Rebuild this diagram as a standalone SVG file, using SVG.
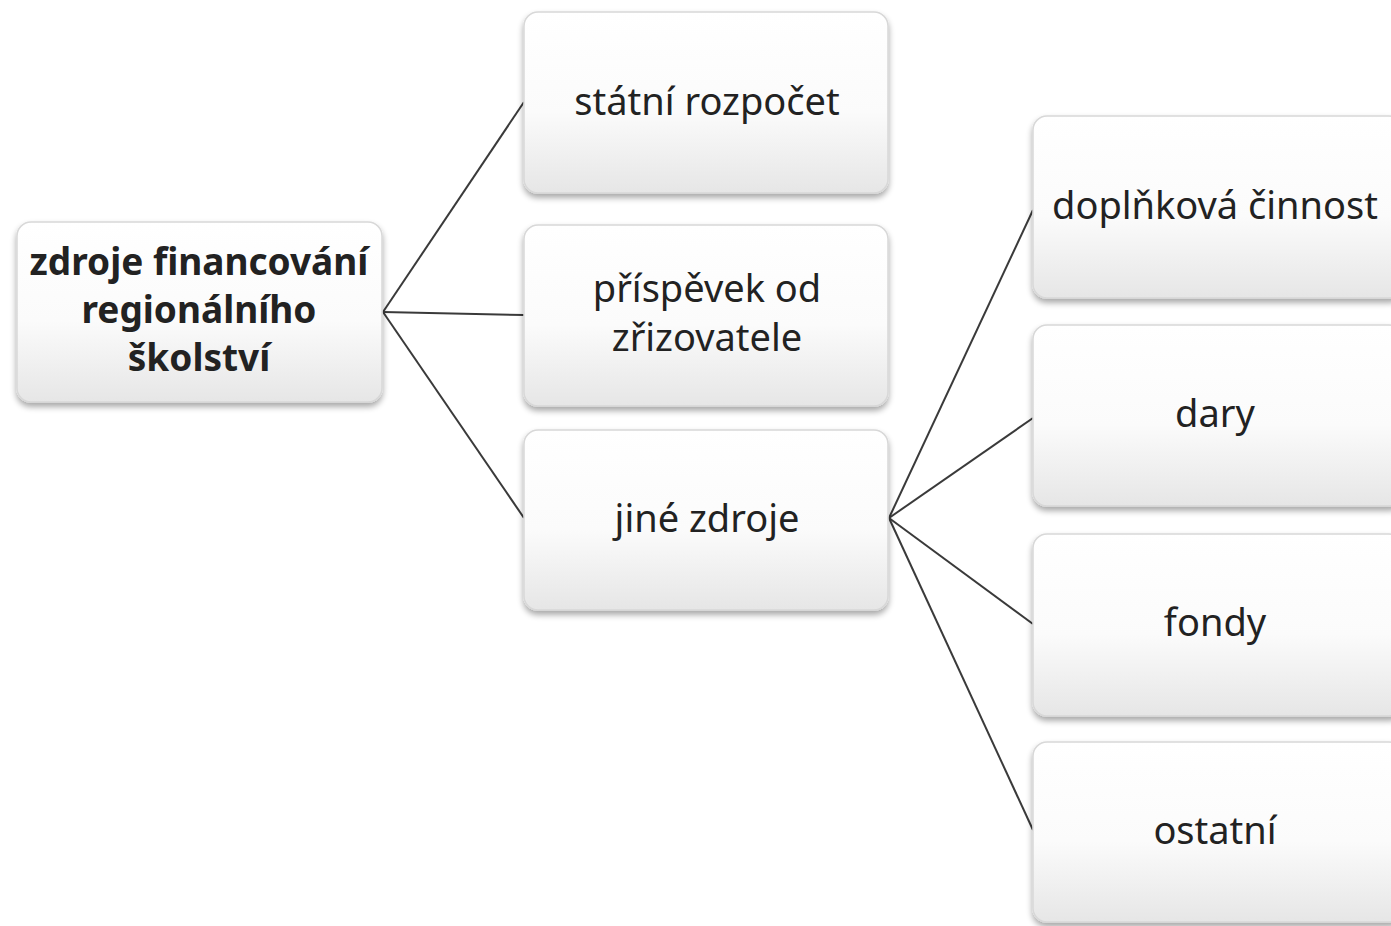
<svg xmlns="http://www.w3.org/2000/svg" width="1391" height="926" viewBox="0 0 1391 926">
<defs>
<linearGradient id="g" x1="0" y1="0" x2="0" y2="1">
<stop offset="0" stop-color="#ffffff"/>
<stop offset="0.55" stop-color="#fbfbfb"/>
<stop offset="1" stop-color="#e6e6e6"/>
</linearGradient>
<filter id="sh" x="-10%" y="-10%" width="120%" height="130%">
<feGaussianBlur in="SourceAlpha" stdDeviation="3"/>
<feOffset dx="0" dy="4" result="b"/>
<feComponentTransfer><feFuncA type="linear" slope="0.35"/></feComponentTransfer>
<feMerge><feMergeNode/><feMergeNode in="SourceGraphic"/></feMerge>
</filter>
</defs>
<style>
.box{fill:url(#g);stroke:#d8d8d8;stroke-width:1.5;filter:url(#sh)}
.t{font-family:"Noto Sans","Open Sans",sans-serif;font-size:38px;fill:#222222;text-anchor:middle}
.b{font-weight:bold;font-size:37px}
.c{stroke:#3a3a3a;stroke-width:2;fill:none}
</style>
<rect width="1391" height="926" fill="#ffffff"/>
<g id="connectors">
<line class="c" x1="383" y1="312" x2="524" y2="102"/>
<line class="c" x1="383" y1="312" x2="524" y2="315"/>
<line class="c" x1="383" y1="312" x2="524" y2="518"/>
<line class="c" x1="889" y1="518" x2="1033" y2="210"/>
<line class="c" x1="889" y1="518" x2="1033" y2="418"/>
<line class="c" x1="889" y1="518" x2="1033" y2="624"/>
<line class="c" x1="889" y1="518" x2="1033" y2="830"/>
</g>
<g id="root">
<rect class="box" x="17" y="222" width="365" height="180" rx="14"/>
<text class="t b" x="199" y="275">zdroje financování</text>
<text class="t b" x="199" y="323">regionálního</text>
<text class="t b" x="199" y="371">školství</text>
</g>
<g id="statni">
<rect class="box" x="524" y="12" width="364" height="181" rx="14"/>
<text class="t" x="707" y="115">státní rozpočet</text>
</g>
<g id="prispevek">
<rect class="box" x="524" y="225" width="364" height="181" rx="14"/>
<text class="t" x="707" y="302">příspěvek od</text>
<text class="t" x="707" y="351">zřizovatele</text>
</g>
<g id="jine">
<rect class="box" x="524" y="430" width="364" height="180" rx="14"/>
<text class="t" x="707" y="532">jiné zdroje</text>
</g>
<g id="doplnkova">
<rect class="box" x="1033" y="116" width="370" height="182" rx="14"/>
<text class="t" x="1215" y="219">doplňková činnost</text>
</g>
<g id="dary">
<rect class="box" x="1033" y="325" width="370" height="181" rx="14"/>
<text class="t" x="1215" y="427">dary</text>
</g>
<g id="fondy">
<rect class="box" x="1033" y="534" width="370" height="182" rx="14"/>
<text class="t" x="1215" y="636">fondy</text>
</g>
<g id="ostatni">
<rect class="box" x="1033" y="742" width="370" height="180" rx="14"/>
<text class="t" x="1215" y="844">ostatní</text>
</g>
</svg>
